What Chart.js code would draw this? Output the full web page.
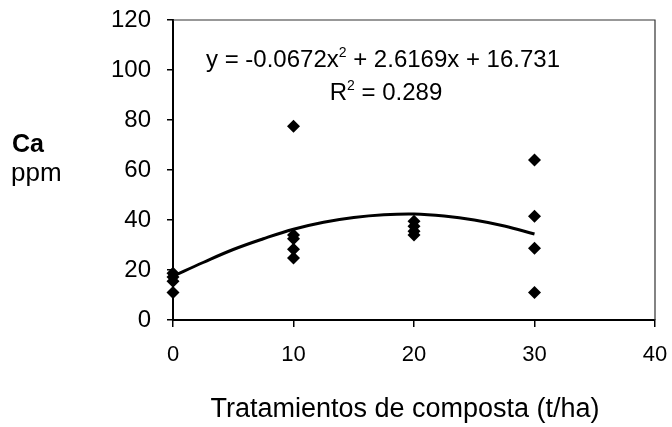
<!DOCTYPE html>
<html lang="es">
  <head>
    <meta charset="UTF-8" />
    <title>Ca ppm vs composta</title>
    <style>
      body {
        margin: 0;
        padding: 0;
        background: #fff;
      }
      .chart-container {
        width: 672px;
        height: 427px;
        position: relative;
      }
    </style>
  </head>
  <body>
    <div class="chart-container">
      <canvas id="caChart"></canvas>
    </div>

    <script src="https://cdn.jsdelivr.net/npm/chart.js"></script>
    <script>
      const dose0 = [18.7, 17.2, 15.5, 11];
      const dose10 = [77.5, 34, 32.5, 28.3, 24.8];
      const dose20 = [39.5, 37.5, 35.5, 34];
      const dose30 = [64, 41.5, 28.7, 11];

      // Polynomial trend line as it appears on the figure
      const trendX = [0, 2.5, 5, 7.5, 10, 12.5, 15, 17.5, 20, 22.5, 25, 27.5, 30];
      const trendY = [17.5, 23, 28.2, 32.5, 36.3, 39.1, 41, 42.1, 42.4, 41.6, 40, 37.6, 34.4];

      const xTicks = [0, 10, 20, 30, 40];
      const yTicks = [0, 20, 40, 60, 80, 100, 120];

      const eqText = ["y = -0.0672x", "2", " + 2.6169x + 16.731"];
      const r2Text = ["R", "2", " = 0.289"];
      const xTitle = "Tratamientos de composta (t/ha)";

      const FONT = "'Liberation Sans', Arial, sans-serif";

      function pts(x, arr) {
        return arr.map((v) => ({ x: x, y: v }));
      }
      const scatterData = []
        .concat(pts(0, dose0))
        .concat(pts(10, dose10))
        .concat(pts(20, dose20))
        .concat(pts(30, dose30));
      const trendData = trendX.map((x, i) => ({ x: x, y: trendY[i] }));

      // draws a line of text with a superscript in the middle
      function drawSup(ctx, parts, cx, baseline, size) {
        const small = Math.round(size * 0.6);
        ctx.font = size + "px " + FONT;
        const w0 = ctx.measureText(parts[0]).width;
        const w2 = ctx.measureText(parts[2]).width;
        ctx.font = small + "px " + FONT;
        const w1 = ctx.measureText(parts[1]).width;
        let x = cx - (w0 + w1 + w2) / 2;
        ctx.textAlign = "left";
        ctx.textBaseline = "alphabetic";
        ctx.font = size + "px " + FONT;
        ctx.fillText(parts[0], x, baseline);
        x += w0;
        ctx.font = small + "px " + FONT;
        ctx.fillText(parts[1], x, baseline - size * 0.42);
        x += w1;
        ctx.font = size + "px " + FONT;
        ctx.fillText(parts[2], x, baseline);
      }

      const textPlugin = {
        id: "textPlugin",
        beforeDatasetsDraw(chart) {
          const ctx = chart.ctx;
          const a = chart.chartArea;
          ctx.save();
          ctx.strokeStyle = "#333";
          ctx.lineWidth = 1.2;
          ctx.beginPath();
          ctx.moveTo(a.left, a.top);
          ctx.lineTo(a.right, a.top);
          ctx.lineTo(a.right, a.bottom);
          ctx.stroke();
          ctx.restore();
        },
        afterDraw(chart) {
          const ctx = chart.ctx;
          ctx.save();
          ctx.fillStyle = "#000";
          ctx.textAlign = "left";
          ctx.textBaseline = "alphabetic";
          ctx.font = "bold 25px " + FONT;
          ctx.fillText("Ca", 12, 152);
          ctx.font = "26px " + FONT;
          ctx.fillText("ppm", 11, 181);

          drawSup(ctx, eqText, 383, 67, 24);
          drawSup(ctx, r2Text, 386, 100, 24);

          ctx.textAlign = "center";
          ctx.font = "27px " + FONT;
          ctx.fillText(xTitle, 405, 417);
          ctx.restore();
        },
      };

      const ctx = document.getElementById("caChart").getContext("2d");
      new Chart(ctx, {
        type: "scatter",
        data: {
          datasets: [
            {
              label: "Ca",
              data: scatterData,
              pointStyle: "rectRot",
              pointRadius: 6.5,
              pointBackgroundColor: "#000",
              pointBorderColor: "#000",
              pointBorderWidth: 0,
              showLine: false,
              clip: false,
            },
            {
              label: "Tendencia",
              data: trendData,
              showLine: true,
              borderColor: "#000",
              borderWidth: 3,
              pointRadius: 0,
              tension: 0.4,
              fill: false,
              clip: false,
            },
          ],
        },
        options: {
          responsive: true,
          maintainAspectRatio: false,
          animation: false,
          layout: { padding: { top: 20, right: 17, bottom: 0, left: 0 } },
          plugins: {
            legend: { display: false },
            tooltip: { enabled: false },
          },
          scales: {
            x: {
              type: "linear",
              min: 0,
              max: 40,
              afterBuildTicks: (s) => {
                s.ticks = xTicks.map((v) => ({ value: v }));
              },
              afterFit: (s) => {
                s.height = 107;
                s.paddingLeft = 0;
                s.paddingRight = 0;
              },
              ticks: {
                color: "#000",
                font: { family: FONT, size: 22 },
                padding: 15,
                maxRotation: 0,
              },
              grid: {
                drawOnChartArea: false,
                drawTicks: true,
                tickLength: 7,
                color: "#000",
                lineWidth: 1.5,
              },
              border: { display: true, color: "#000", width: 2 },
            },
            y: {
              type: "linear",
              min: 0,
              max: 120,
              afterBuildTicks: (s) => {
                s.ticks = yTicks.map((v) => ({ value: v }));
              },
              afterFit: (s) => {
                s.width = 173;
                s.paddingTop = 0;
                s.paddingBottom = 0;
              },
              ticks: {
                color: "#000",
                font: { family: FONT, size: 24 },
                padding: 16,
              },
              grid: {
                drawOnChartArea: false,
                drawTicks: true,
                tickLength: 6,
                color: "#000",
                lineWidth: 1.5,
              },
              border: { display: true, color: "#000", width: 2 },
            },
          },
        },
        plugins: [textPlugin],
      });
    </script>
  </body>
</html>
